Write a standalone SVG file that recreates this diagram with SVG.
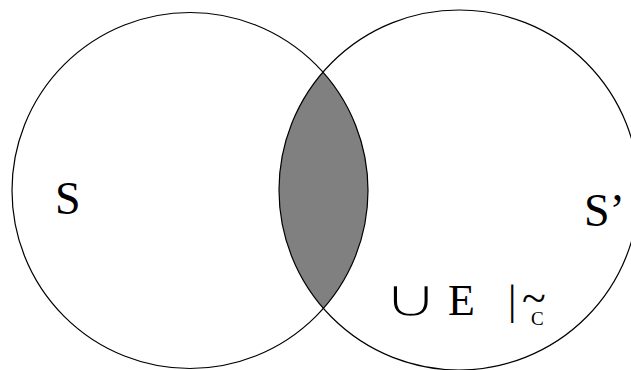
<svg xmlns="http://www.w3.org/2000/svg" width="631" height="370" viewBox="0 0 631 370">
<style>
.c{fill:none;stroke:#000;stroke-width:1.2}
.t{font-family:"Liberation Serif","Times New Roman",serif;fill:#000}
</style>
<rect width="631" height="370" fill="#fff"/>
<g id="lens">
<path d="M323.2 71.9 A178 178 0 0 1 323.2 308.1 A180 180 0 0 1 323.2 71.9 Z" fill="#808080" stroke="none"/>
</g>
<g id="circle-S">
<circle class="c" cx="190" cy="190.5" r="178"/>
<text class="t" x="55" y="214" font-size="46">S</text>
</g>
<g id="circle-S2">
<circle class="c" cx="459" cy="190" r="180"/>
<text class="t" x="584" y="226" font-size="46">S’</text>
</g>
<g id="label">
<text class="t" transform="translate(382 317) scale(1.5 1.05)" font-size="52" font-family="DejaVu Sans" font-weight="200" stroke="#fff" stroke-width="2.3">∪</text>
<text class="t" x="448" y="315" font-size="44">E</text>
<text class="t" x="508" y="314" font-size="42">|</text>
<text class="t" x="522" y="313" font-size="44">~<tspan x="531" y="325" font-size="19">C</tspan></text>
</g>
</svg>
